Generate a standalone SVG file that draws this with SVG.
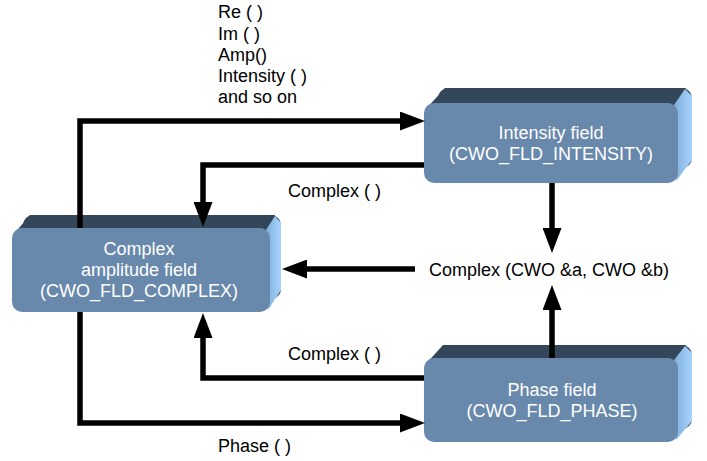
<svg xmlns="http://www.w3.org/2000/svg" width="707" height="461" viewBox="0 0 707 461">
<defs>
<linearGradient id="side" x1="0" y1="0" x2="1" y2="0">
<stop offset="0" stop-color="#7FAEDB"/>
<stop offset="1" stop-color="#A8D4FF"/>
</linearGradient>
<marker id="ah" markerUnits="userSpaceOnUse" markerWidth="25" markerHeight="19" refX="5" refY="9.5" orient="auto">
<path d="M0,0 L25,9.5 L0,19 z" fill="#000"/>
</marker>
</defs>
<style>
.back{fill:#34475A}
.side{fill:url(#side)}
.front{fill:#6889AC}
.bt{font-family:"Liberation Sans",Arial,sans-serif;font-size:18px;fill:#fff;text-anchor:middle}
.lb{font-family:"Liberation Sans",Arial,sans-serif;font-size:18px;fill:#000}
.c{fill:none;stroke:#000;stroke-width:5.5;stroke-linejoin:miter}
</style>
<rect width="707" height="461" fill="#fff"/>
<g id="complex">
<rect class="back" x="23" y="215" width="258" height="84" rx="10"/>
<polygon class="back" points="13,235 30,215 275,215 270,232"/>
<polygon class="side" points="266,230 275,216 281,223 281,290 268,310"/>
<rect class="front" x="12" y="228" width="258" height="84" rx="10"/>
<text class="bt" x="139" y="255">Complex</text>
<text class="bt" x="139" y="276">amplitude field</text>
<text class="bt" x="139" y="297">(CWO_FLD_COMPLEX)</text>
</g>
<g id="intensity">
<rect class="back" x="438" y="88" width="254" height="80" rx="10"/>
<polygon class="back" points="425,110 445,88 686,88 678,107"/>
<polygon class="side" points="674,105 685,89 692,96 692,160 676,181"/>
<rect class="front" x="424" y="103" width="254" height="80" rx="10"/>
<text class="bt" x="551" y="139">Intensity field</text>
<text class="bt" x="551" y="160">(CWO_FLD_INTENSITY)</text>
</g>
<g id="phase">
<rect class="back" x="438" y="345" width="254" height="84" rx="10"/>
<polygon class="back" points="425,365 443,345 686,345 678,362"/>
<polygon class="side" points="674,360 685,346 692,353 692,421 676,440"/>
<rect class="front" x="424" y="358" width="254" height="84" rx="10"/>
<text class="bt" x="552" y="396">Phase field</text>
<text class="bt" x="552" y="417">(CWO_FLD_PHASE)</text>
</g>
<g id="connectors">
<path class="c" d="M80,228 V121 H405" marker-end="url(#ah)"/>
<path class="c" d="M424,165 H203 V207" marker-end="url(#ah)"/>
<path class="c" d="M552,183 V233" marker-end="url(#ah)"/>
<path class="c" d="M552,358 V305" marker-end="url(#ah)"/>
<path class="c" d="M415,269 H302" marker-end="url(#ah)"/>
<path class="c" d="M424,378 H203 V333" marker-end="url(#ah)"/>
<path class="c" d="M80,312 V423 H405" marker-end="url(#ah)"/>
</g>
<g id="labels">
<text class="lb" x="218" y="18">Re ( )</text>
<text class="lb" x="218" y="39.5">Im ( )</text>
<text class="lb" x="218" y="61">Amp()</text>
<text class="lb" x="218" y="82">Intensity ( )</text>
<text class="lb" x="218" y="103">and so on</text>
<text class="lb" x="288" y="197">Complex ( )</text>
<text class="lb" x="429" y="276">Complex (CWO &amp;a, CWO &amp;b)</text>
<text class="lb" x="288" y="360">Complex ( )</text>
<text class="lb" x="218" y="452">Phase ( )</text>
</g>
</svg>
